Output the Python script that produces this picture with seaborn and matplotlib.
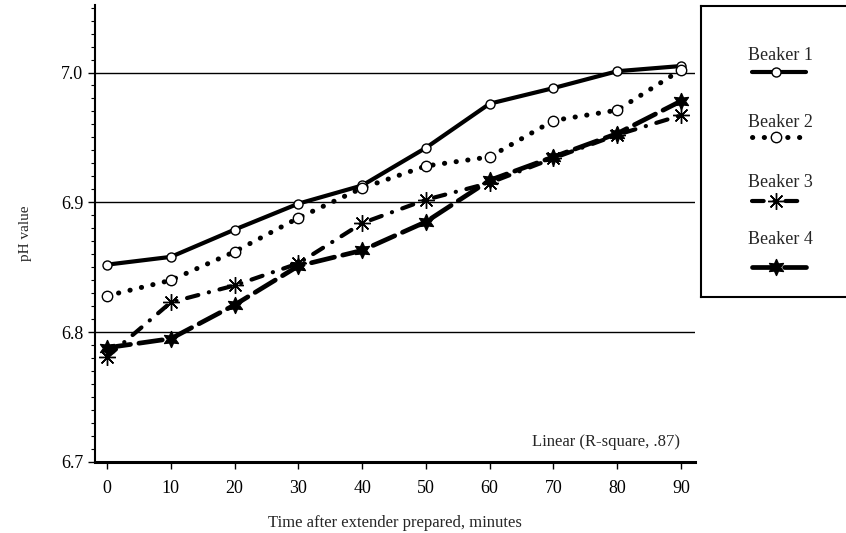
import numpy as np
import pandas as pd
import seaborn as sns
import matplotlib
matplotlib.use("Agg")
import matplotlib.pyplot as plt
from matplotlib.ticker import MultipleLocator, FormatStrFormatter

# data
minutes = [0, 10, 20, 30, 40, 50, 60, 70, 80, 90]
beaker1 = [6.852, 6.858, 6.879, 6.899, 6.913, 6.942, 6.976, 6.988, 7.001, 7.005]
beaker2 = [6.828, 6.840, 6.862, 6.888, 6.911, 6.928, 6.935, 6.963, 6.971, 7.002]
beaker3 = [6.781, 6.823, 6.836, 6.853, 6.884, 6.902, 6.915, 6.934, 6.952, 6.967]
beaker4 = [6.788, 6.795, 6.821, 6.851, 6.863, 6.885, 6.917, 6.935, 6.953, 6.978]
labels = ["Beaker 1", "Beaker 2", "Beaker 3", "Beaker 4"]
series = [beaker1, beaker2, beaker3, beaker4]

sns.set_theme(style="ticks")
plt.rcParams['font.family'] = ['Liberation Serif', 'DejaVu Serif']

# line styles for each beaker
styles = [
    dict(linewidth=3.0, linestyle="-", marker="o", markersize=6.5,
         markerfacecolor="white", markeredgecolor="black", markeredgewidth=1.0),
    dict(linewidth=3.6, linestyle=(0, (0.05, 2.3)), dash_capstyle="round",
         marker="o", markersize=7.5, markerfacecolor="white",
         markeredgecolor="black", markeredgewidth=1.0),
    dict(linewidth=3.0, linestyle=(0, (2.8, 2.6, 0.05, 2.6)), dash_capstyle="round",
         marker=(8, 2, 0), markersize=12, markeredgecolor="black",
         markeredgewidth=1.0),
    dict(linewidth=3.4, linestyle=(0, (5.0, 1.8)), dash_capstyle="round",
         marker=(6, 1, 0), markersize=12, markerfacecolor="black",
         markeredgecolor="black", markeredgewidth=0.8),
]

fig = plt.figure(figsize=(8.46, 5.33), dpi=100)
ax = fig.add_axes([95 / 846, 71 / 533, 600 / 846, 457 / 533])

for y_vals, lab, st in zip(series, labels, styles):
    df = pd.DataFrame({"minutes": minutes, "pH": y_vals})
    sns.lineplot(data=df, x="minutes", y="pH", ax=ax, color="black",
                 errorbar=None, label=lab, legend=False, **st)

# horizontal reference lines
for yv in [6.8, 6.9, 7.0]:
    ax.axhline(yv, color="black", linewidth=1.0, zorder=1)

ax.set_xlim(-1.9, 92.2)
ax.set_ylim(6.7, 7.052)
ax.set_xticks(minutes)
ax.yaxis.set_major_locator(MultipleLocator(0.1))
ax.yaxis.set_minor_locator(MultipleLocator(0.01))
ax.yaxis.set_major_formatter(FormatStrFormatter("%.1f"))
ax.tick_params(axis="both", which="major", labelsize=13, length=5, width=1,
               color="black", labelcolor="black", direction="out")
ax.tick_params(axis="x", which="major", pad=8)
ax.tick_params(axis="y", which="minor", length=3, width=0.8, color="black")
for s in ["top", "right"]:
    ax.spines[s].set_visible(False)
ax.spines["left"].set_linewidth(1.5)
ax.spines["bottom"].set_linewidth(2.2)
ax.spines["left"].set_color("black")
ax.spines["bottom"].set_color("black")

ax.set_xlabel("Time after extender prepared, minutes", fontsize=12, labelpad=13)
ax.set_ylabel("pH value", fontsize=11, labelpad=21)
ax.text(0.975, 0.026, "Linear (R-square, .87)", transform=ax.transAxes,
        ha="right", va="bottom", fontsize=12)

# legend panel: labels above their line samples
lax = fig.add_axes([701 / 846, (533 - 297) / 533, 150 / 846, 291 / 533])
lax.set_xlim(0, 1)
lax.set_ylim(0, 1)
lax.set_xticks([])
lax.set_yticks([])
for s in lax.spines.values():
    s.set_color("black")
    s.set_linewidth(1.5)
label_y = [0.83, 0.60, 0.395, 0.196]
line_y = [0.773, 0.55, 0.33, 0.103]
for lab, st, ty, ly in zip(labels, styles, label_y, line_y):
    lax.text(0.53, ty, lab, ha="center", va="center", fontsize=13)
    lax.plot([0.34, 0.5, 0.7], [ly, ly, ly], color="black", markevery=[1], **st)

fig.savefig("out.png", dpi=100)
